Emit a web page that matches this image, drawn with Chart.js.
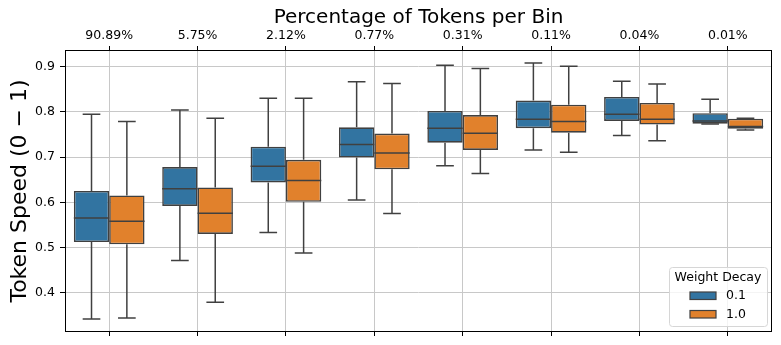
<!DOCTYPE html>
<html>
<head>
<meta charset="utf-8">
<script src="https://cdn.jsdelivr.net/npm/chart.js@4.4.1/dist/chart.umd.min.js"></script>
<style>
  html, body { margin: 0; padding: 0; background: #fff; }
  #wrap { width: 781px; height: 345px; }
</style>
</head>
<body>
<div id="wrap"><canvas id="boxChart" width="781" height="345"></canvas></div>
<script>
// bins (top axis labels)
const binLabels = ['90.89%', '5.75%', '2.12%', '0.77%', '0.31%', '0.11%', '0.04%', '0.01%'];
const yTicks = [0.4, 0.5, 0.6, 0.7, 0.8, 0.9];

// weight decay 0.1
const wd01Low  = [0.342, 0.471, 0.533, 0.605, 0.681, 0.716, 0.748, 0.773];
const wd01Q1   = [0.512, 0.592, 0.644, 0.699, 0.732, 0.764, 0.780, 0.774];
const wd01Med  = [0.565, 0.630, 0.680, 0.728, 0.764, 0.784, 0.795, 0.780];
const wd01Q3   = [0.625, 0.678, 0.723, 0.766, 0.802, 0.825, 0.833, 0.797];
const wd01High = [0.795, 0.804, 0.830, 0.867, 0.903, 0.908, 0.868, 0.828];

// weight decay 1.0
const wd10Low  = [0.344, 0.379, 0.488, 0.575, 0.664, 0.711, 0.736, 0.760];
const wd10Q1   = [0.507, 0.530, 0.601, 0.673, 0.716, 0.754, 0.772, 0.763];
const wd10Med  = [0.558, 0.576, 0.648, 0.709, 0.753, 0.779, 0.784, 0.768];
const wd10Q3   = [0.615, 0.633, 0.694, 0.752, 0.793, 0.816, 0.820, 0.785];
const wd10High = [0.779, 0.786, 0.830, 0.863, 0.896, 0.901, 0.862, 0.786];

const edgeColor = '#404040';
const gridColor = '#c8c8c8';

Chart.defaults.font.family = "'DejaVu Sans', sans-serif";
Chart.defaults.color = '#000';

const series = [
    { label: '0.1', color: '#3274a1', low: wd01Low, q1: wd01Q1, med: wd01Med, q3: wd01Q3, high: wd01High },
    { label: '1.0', color: '#e1812c', low: wd10Low, q1: wd10Q1, med: wd10Med, q3: wd10Q3, high: wd10High }
];

// whiskers, medians, frame and legend
const boxExtras = {
    id: 'boxExtras',
    afterDatasetsDraw(chart) {
        const ctx = chart.ctx;
        const y = chart.scales.y;
        ctx.save();
        ctx.strokeStyle = edgeColor;
        ctx.lineWidth = 1.5;
        chart.data.datasets.forEach((ds, i) => {
            const s = series[i];
            chart.getDatasetMeta(i).data.forEach((bar, j) => {
                const cx = bar.x;
                const half = bar.width / 2;
                const cap = bar.width / 4;
                const yLow = y.getPixelForValue(s.low[j]);
                const yQ1 = y.getPixelForValue(s.q1[j]);
                const yMed = y.getPixelForValue(s.med[j]);
                const yQ3 = y.getPixelForValue(s.q3[j]);
                const yHigh = y.getPixelForValue(s.high[j]);
                ctx.beginPath();
                ctx.moveTo(cx, yQ3); ctx.lineTo(cx, yHigh);
                ctx.moveTo(cx - cap, yHigh); ctx.lineTo(cx + cap, yHigh);
                ctx.moveTo(cx, yQ1); ctx.lineTo(cx, yLow);
                ctx.moveTo(cx - cap, yLow); ctx.lineTo(cx + cap, yLow);
                ctx.moveTo(cx - half, yMed); ctx.lineTo(cx + half, yMed);
                ctx.stroke();
            });
        });
        // axes frame
        const a = chart.chartArea;
        ctx.strokeStyle = '#000';
        ctx.lineWidth = 1;
        ctx.strokeRect(a.left + 0.5, a.top + 0.5, a.right - a.left - 1, a.bottom - a.top - 1);
        ctx.restore();
    },
    afterDraw(chart) {
        const ctx = chart.ctx;
        const a = chart.chartArea;
        const w = 98, h = 59;
        const lx = a.right - 5 - w, ly = a.bottom - 6 - h;
        ctx.save();
        ctx.beginPath();
        ctx.roundRect(lx + 0.5, ly + 0.5, w, h, 3);
        ctx.fillStyle = 'rgba(255,255,255,0.8)';
        ctx.fill();
        ctx.strokeStyle = '#d6d6d6';
        ctx.lineWidth = 1;
        ctx.stroke();
        ctx.fillStyle = '#000';
        ctx.font = "12.5px 'DejaVu Sans'";
        ctx.textAlign = 'center';
        ctx.textBaseline = 'middle';
        ctx.fillText('Weight Decay', lx + w / 2, ly + 11);
        ctx.textAlign = 'left';
        series.forEach((s, i) => {
            const sy = ly + 25 + i * 18.5;
            ctx.fillStyle = s.color;
            ctx.fillRect(lx + 21, sy, 26, 7.5);
            ctx.strokeStyle = edgeColor;
            ctx.lineWidth = 1.2;
            ctx.strokeRect(lx + 21, sy, 26, 7.5);
            ctx.fillStyle = '#000';
            ctx.fillText(s.label, lx + 57, sy + 4);
        });
        ctx.restore();
    }
};

const ctx = document.getElementById('boxChart').getContext('2d');

new Chart(ctx, {
    type: 'bar',
    data: {
        labels: binLabels,
        datasets: series.map(s => ({
            label: s.label,
            data: s.q1.map((v, j) => [v, s.q3[j]]),
            backgroundColor: s.color,
            borderColor: edgeColor,
            borderWidth: 1.6,
            borderSkipped: false,
            categoryPercentage: 0.8,
            barPercentage: 1.0
        }))
    },
    options: {
        responsive: false,
        animation: false,
        layout: { padding: { left: 0, right: 9, top: 0, bottom: 0 } },
        plugins: {
            legend: { display: false },
            tooltip: { enabled: false }
        },
        scales: {
            x: {
                position: 'bottom',
                offset: true,
                grid: { offset: false, color: gridColor, lineWidth: 1, tickLength: 4, tickColor: '#000' },
                border: { display: false },
                ticks: { display: false },
                afterFit: scale => { scale.height = 13; }
            },
            x2: {
                type: 'category',
                labels: binLabels,
                position: 'top',
                offset: true,
                grid: { offset: false, drawOnChartArea: false, tickLength: 4, tickColor: '#000' },
                border: { display: false },
                ticks: { font: { size: 12.5 }, padding: 3, maxRotation: 0, autoSkip: false },
                title: {
                    display: true,
                    text: 'Percentage of Tokens per Bin',
                    font: { size: 20 },
                    padding: { top: 6, bottom: 0 }
                },
                afterFit: scale => { scale.height = 50; }
            },
            y: {
                min: 0.313,
                max: 0.937,
                grid: { color: gridColor, lineWidth: 1, tickLength: 5, tickColor: '#000' },
                border: { display: false },
                afterBuildTicks: scale => { scale.ticks = yTicks.map(v => ({ value: v })); },
                ticks: { font: { size: 12.5 }, padding: 5, callback: v => v.toFixed(1) },
                title: {
                    display: true,
                    text: 'Token Speed (0 \u2212 1)',
                    font: { size: 22 },
                    padding: { top: 7, bottom: 0 }
                },
                afterFit: scale => { scale.width = 65; }
            }
        }
    },
    plugins: [boxExtras]
});
</script>
</body>
</html>
